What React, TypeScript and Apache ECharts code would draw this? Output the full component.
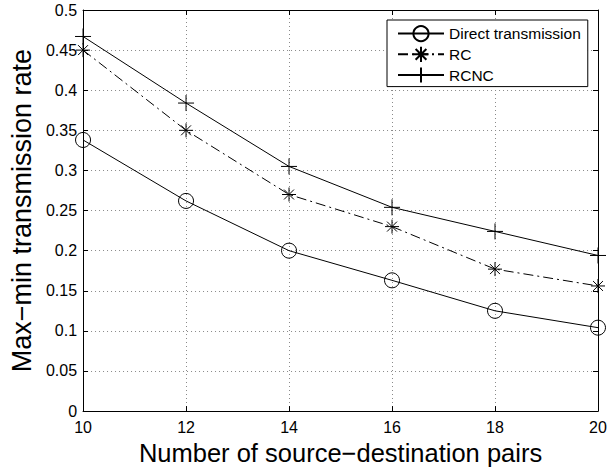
import { useEffect, useRef } from 'react';
import * as echarts from 'echarts';

const xValues = [10, 12, 14, 16, 18, 20];
const directTransmission = [0.338, 0.262, 0.2, 0.163, 0.125, 0.104];
const rc = [0.45, 0.35, 0.27, 0.23, 0.177, 0.156];
const rcnc = [0.467, 0.384, 0.305, 0.254, 0.224, 0.194];
const seriesNames = ['Direct transmission', 'RC', 'RCNC'];
const yTickLabels = ['0', '0.05', '0.1', '0.15', '0.2', '0.25', '0.3', '0.35', '0.4', '0.45', '0.5'];
const xTitle = 'Number of source\u2212destination pairs';
const yTitle = 'Max\u2212min transmission rate';

const FONT = '"Liberation Sans", Arial, Helvetica, sans-serif';
const PLUS = 'path://M0,8L16,8M8,0L8,16';
const STAR = 'path://M0,6.5L13,6.5M6.5,0L6.5,13M1.9,1.9L11.1,11.1M11.1,1.9L1.9,11.1';

export default function App() {
  const ref = useRef<HTMLDivElement>(null);
  useEffect(() => {
    if (!ref.current) return;
    const chart = echarts.init(ref.current, undefined, { renderer: 'svg' });
    const pts = (ys: number[]) => xValues.map((x, i) => [x, ys[i]]);
    const baseAxis = {
      axisLine: { show: true, onZero: false, lineStyle: { color: '#000', width: 1 } },
      axisTick: { show: true, inside: true, length: 5, lineStyle: { color: '#000' } },
    };
    const blackStroke = { color: 'rgba(0,0,0,0)', borderColor: '#000', borderWidth: 1 };
    chart.setOption({
      animation: false,
      backgroundColor: '#fff',
      textStyle: { fontFamily: FONT },
      grid: { left: 79, right: 18, top: 10, bottom: 51, containLabel: false },
      legend: {
        show: true,
        orient: 'vertical',
        left: 387,
        top: 20,
        data: seriesNames,
        itemWidth: 46,
        itemHeight: 19,
        itemGap: 3.5,
        padding: [5, 7, 3, 10],
        borderColor: '#000',
        borderWidth: 1,
        borderRadius: 0,
        backgroundColor: '#fff',
        textStyle: { fontSize: 15.5, color: '#000', fontFamily: FONT },
      },
      xAxis: [
        {
          type: 'value',
          min: 10,
          max: 20,
          interval: 2,
          position: 'bottom',
          ...baseAxis,
          axisLabel: { show: true, margin: 8, fontSize: 16, color: '#000', fontFamily: FONT },
          splitLine: { show: true, lineStyle: { color: '#8a8a8a', type: [1, 3], width: 1 } },
          name: xTitle,
          nameLocation: 'middle',
          nameGap: 22,
          nameTextStyle: { fontSize: 25.5, color: '#000', fontFamily: FONT },
        },
        {
          type: 'value',
          min: 10,
          max: 20,
          interval: 2,
          position: 'top',
          ...baseAxis,
          axisLabel: { show: false },
          splitLine: { show: false },
        },
      ],
      yAxis: [
        {
          type: 'value',
          min: 0,
          max: 0.5,
          interval: 0.05,
          position: 'left',
          ...baseAxis,
          axisLabel: {
            show: true,
            margin: 6,
            fontSize: 16,
            color: '#000',
            fontFamily: FONT,
            formatter: (v: number) => yTickLabels[Math.round(v / 0.05)] ?? '',
          },
          splitLine: { show: true, lineStyle: { color: '#8a8a8a', type: [1, 3], width: 1 } },
          name: yTitle,
          nameLocation: 'middle',
          nameGap: 46,
          nameTextStyle: { fontSize: 27, color: '#000', fontFamily: FONT },
        },
        {
          type: 'value',
          min: 0,
          max: 0.5,
          interval: 0.05,
          position: 'right',
          ...baseAxis,
          axisLabel: { show: false },
          splitLine: { show: false },
        },
      ],
      series: [
        {
          name: seriesNames[0],
          type: 'line',
          data: pts(directTransmission),
          symbol: 'circle',
          symbolSize: 15,
          showAllSymbol: true,
          lineStyle: { color: '#000', width: 1, type: 'solid' },
          itemStyle: blackStroke,
          z: 3,
        },
        {
          name: seriesNames[1],
          type: 'line',
          data: pts(rc),
          symbol: STAR,
          symbolSize: 14,
          showAllSymbol: true,
          lineStyle: { color: '#000', width: 1, type: [10, 4, 2, 4] },
          itemStyle: blackStroke,
          z: 3,
        },
        {
          name: seriesNames[2],
          type: 'line',
          data: pts(rcnc),
          symbol: PLUS,
          symbolSize: 16,
          showAllSymbol: true,
          lineStyle: { color: '#000', width: 1, type: 'solid' },
          itemStyle: blackStroke,
          z: 3,
        },
      ],
    });
    return () => chart.dispose();
  }, []);
  return <div ref={ref} style={{ width: 616, height: 471, position: 'absolute', left: 0, top: 0 }} />;
}
